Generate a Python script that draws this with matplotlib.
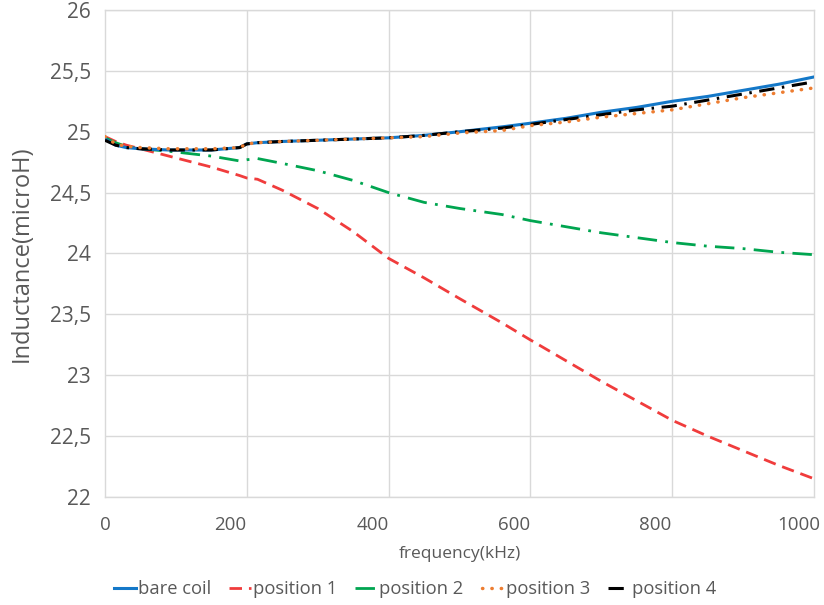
import matplotlib.pyplot as plt

# frequency (kHz) and inductance (microH)
freq = [0, 15, 30, 50, 90, 150, 190, 200, 215, 250, 300, 350, 400, 450, 500,
        560, 600, 650, 700, 750, 800, 850, 900, 950, 1000]
bare_coil = [24.94, 24.89, 24.87, 24.86, 24.85, 24.85, 24.87, 24.90, 24.91, 24.92,
             24.93, 24.94, 24.95, 24.97, 25.00, 25.04, 25.07, 25.11, 25.16, 25.20,
             25.25, 25.29, 25.34, 25.39, 25.45]
position_1 = [24.96, 24.92, 24.89, 24.86, 24.80, 24.71, 24.64, 24.62, 24.61, 24.52,
              24.37, 24.18, 23.96, 23.80, 23.63, 23.43, 23.29, 23.12, 22.95, 22.79,
              22.63, 22.50, 22.38, 22.26, 22.15]
position_2 = [24.95, 24.91, 24.88, 24.86, 24.84, 24.80, 24.76, 24.77, 24.78, 24.74,
              24.68, 24.60, 24.50, 24.42, 24.37, 24.32, 24.27, 24.22, 24.17, 24.13,
              24.09, 24.06, 24.04, 24.01, 23.99]
position_3 = [24.96, 24.90, 24.88, 24.87, 24.86, 24.86, 24.87, 24.90, 24.91, 24.92,
              24.93, 24.94, 24.95, 24.96, 24.99, 25.01, 25.05, 25.08, 25.12, 25.15,
              25.18, 25.23, 25.28, 25.32, 25.36]
# position 4 stops a little before the end of the axis
freq_4 = [0, 15, 30, 50, 90, 150, 190, 200, 215, 250, 300, 350, 400, 450, 500,
          560, 600, 650, 700, 750, 800, 850, 900, 950, 990]
position_4 = [24.93, 24.89, 24.87, 24.86, 24.85, 24.85, 24.87, 24.90, 24.91, 24.92,
              24.93, 24.94, 24.95, 24.97, 25.00, 25.03, 25.06, 25.10, 25.14, 25.18,
              25.21, 25.26, 25.31, 25.36, 25.40]

x_labels = ["0", "200", "400", "600", "800", "1000"]
x_label_pos = [0, 176, 377, 577, 776, 979]
y_ticks = [22, 22.5, 23, 23.5, 24, 24.5, 25, 25.5, 26]

plt.rcParams['font.family'] = ['Open Sans', 'DejaVu Sans']

fig = plt.figure(figsize=(8.24, 6.05), dpi=100)
ax = fig.add_axes([0.1274, 0.1785, 0.8605, 0.805])

ax.plot(freq, bare_coil, color="#1478C8", lw=2.2, label="bare coil", zorder=3)
ax.plot(freq, position_1, color="#F03C3C", lw=2.0, ls=(0, (4.5, 2.5)), label="position 1")
ax.plot(freq, position_2, color="#00A550", lw=2.0, ls=(0, (7, 3, 1, 3)), label="position 2")
ax.plot(freq, position_3, color="#ED7D31", lw=2.5, ls=(0, (0.1, 2.6)), label="position 3",
        dash_capstyle="round", zorder=4)
ax.plot(freq_4, position_4, color="black", lw=2.2, ls=(0, (5, 2.5, 0.8, 2.5)),
        label="position 4", zorder=3)

ax.set_xlim(0, 1000)
ax.set_ylim(22, 26)
ax.set_yticks(y_ticks)
ax.set_yticklabels([("%g" % v).replace(".", ",") for v in y_ticks])
ax.set_xticks(x_label_pos)
ax.set_xticklabels(x_labels)
ax.set_xticks([200, 400, 600, 800], minor=True)
ax.tick_params(axis="both", which="both", length=0, colors="#595959")
ax.tick_params(axis="y", labelsize=15, pad=10)
ax.tick_params(axis="x", labelsize=13.5, pad=14)
ax.grid(True, which="minor", axis="x", color="#D9D9D9", lw=1)
ax.grid(True, which="major", axis="y", color="#D9D9D9", lw=1)
for s in ax.spines.values():
    s.set_color("#D9D9D9")
    s.set_linewidth(1)

ax.set_xlabel("frequency(kHz)", fontsize=12.5, color="#595959", labelpad=8)
ax.set_ylabel("Inductance(microH)", fontsize=17, color="#595959")
ax.yaxis.set_label_coords(-0.1, 0.5)

fig.legend(loc="center left", bbox_to_anchor=(0.118, 0.026), ncol=5, frameon=False,
           fontsize=13.2, labelcolor="#595959", handlelength=1.2, handletextpad=0.1,
           columnspacing=1.0)

fig.savefig("out.png", dpi=100)
